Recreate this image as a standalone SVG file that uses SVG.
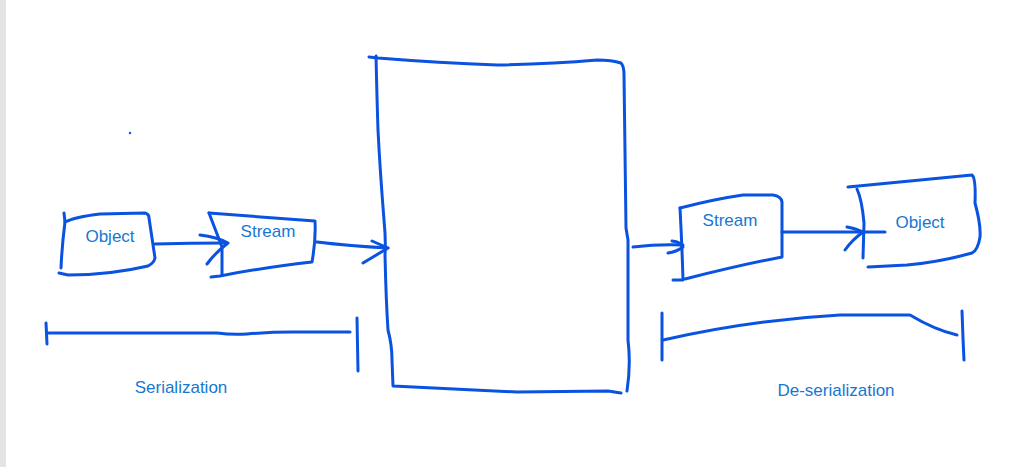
<svg xmlns="http://www.w3.org/2000/svg" width="1021" height="467" viewBox="0 0 1021 467">
<style>
.ink{fill:none;stroke:#0a52e0;stroke-width:3;stroke-linecap:round;stroke-linejoin:round}
.lbl{font-family:"Liberation Sans",Arial,sans-serif;font-size:17px;fill:#1677d2}
</style>
<rect x="0" y="0" width="1021" height="467" fill="#ffffff"/>
<rect x="0" y="0" width="6" height="467" fill="#e4e4e4"/>
<g id="dot"><circle cx="130" cy="133" r="1.2" fill="#0a52e0"/></g>
<g id="medium">
<path class="ink" d="M369,57 L378,58 Q440,63 497,65 Q550,64 597,60 Q612,60 621,63 Q624,66 624,75 L626,228 L628,240 L628,340 Q631,365 627,391"/>
<path class="ink" d="M376,56 Q377,100 378,130 Q380,170 384,220 Q386,240 385,255 Q386,300 388,330 Q392,345 392,360 L393,386 L517,392 L608,391 L621,393"/>
</g>
<g id="object1">
<path class="ink" d="M64,213 L65,222 Q62,245 61,268"/>
<path class="ink" d="M65,222 Q75,217 100,214 L145,213 Q149,214 149,218 L155,258 Q154,263 148,266 Q110,275 68,275 L59,273"/>
<text class="lbl" x="110" y="242" text-anchor="middle">Object</text>
</g>
<g id="stream1">
<path class="ink" d="M209,213 L315,221 Q316,240 312,262 Q260,268 220,276 L211,277"/>
<path class="ink" d="M209,213 L222,247 L222,275"/>
<text class="lbl" x="268" y="237" text-anchor="middle">Stream</text>
</g>
<g id="stream2">
<path class="ink" d="M680,208 Q682,245 683,280 L673,280"/>
<path class="ink" d="M680,208 Q715,199 743,195 L773,195 Q781,196 782,202 L782,257 Q740,265 685,279"/>
<text class="lbl" x="730" y="226" text-anchor="middle">Stream</text>
</g>
<g id="object2">
<path class="ink" d="M848,187 L972,175 Q976,178 975,203 Q981,225 980,237 Q978,250 972,253 Q940,262 907,265 L868,267"/>
<path class="ink" d="M857,189 Q862,200 864,223 L863,258"/>
<text class="lbl" x="920" y="228" text-anchor="middle">Object</text>
</g>
<g id="serialization">
<path class="ink" d="M46,323 L47,344"/>
<path class="ink" d="M47,333 L217,333 Q232,335 247,334 Q270,332 293,332 L350,332"/>
<path class="ink" d="M357,318 L358,371"/>
<text class="lbl" x="181" y="393" text-anchor="middle">Serialization</text>
</g>
<g id="deserialization">
<path class="ink" d="M662,313 L662,360"/>
<path class="ink" d="M663,340 Q750,320 840,315 L910,315 Q935,330 957,335"/>
<path class="ink" d="M962,311 Q963,340 964,360"/>
<text class="lbl" x="836" y="396" text-anchor="middle">De-serialization</text>
</g>
<g id="connectors">
<path class="ink" d="M155,244 Q190,243 227,243"/>
<path class="ink" d="M200,235 Q217,237 228,243 Q215,253 207,264"/>
<path class="ink" d="M317,242 Q350,246 388,248"/>
<path class="ink" d="M372,241 L388,248 L363,263"/>
<path class="ink" d="M633,247 Q658,244 683,245"/>
<path class="ink" d="M672,241 Q681,242 683,247 Q676,252 668,253"/>
<path class="ink" d="M782,232 L885,232"/>
<path class="ink" d="M847,227 Q857,229 863,232 Q852,240 845,250"/>
</g>
</svg>
